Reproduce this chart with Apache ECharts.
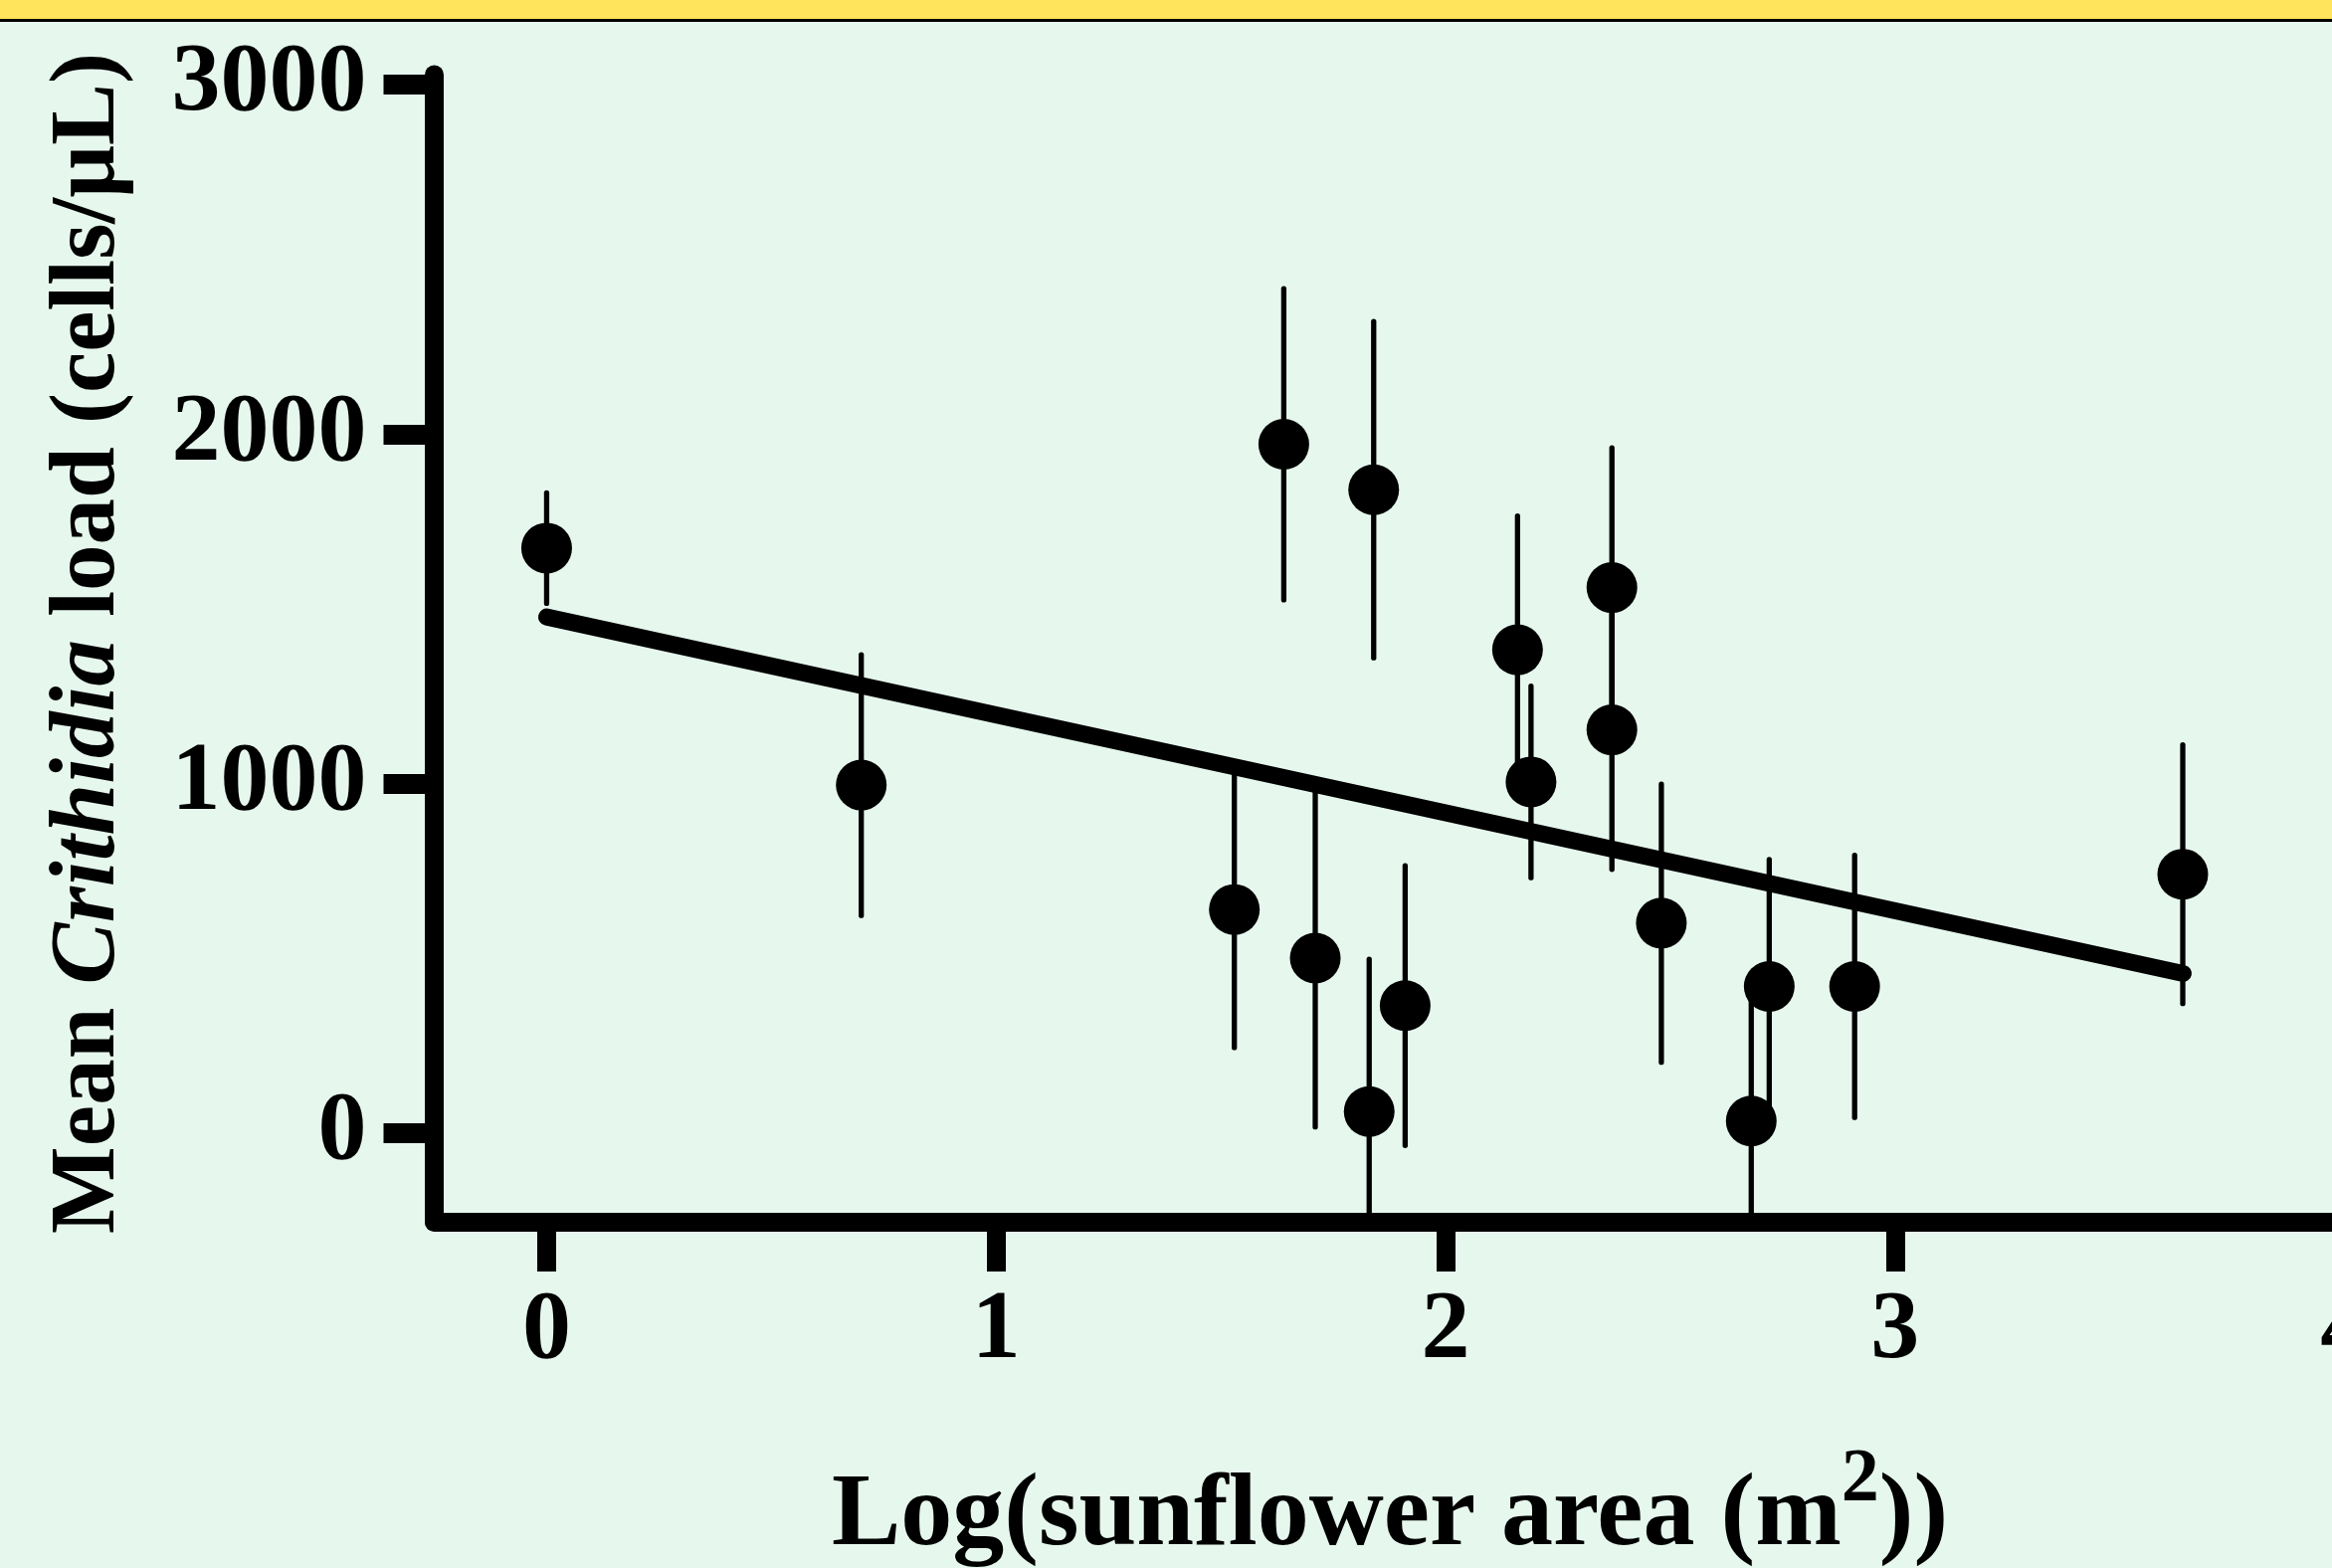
<!DOCTYPE html>
<html>
<head>
<meta charset="utf-8">
<script src="https://cdn.jsdelivr.net/npm/echarts@6/dist/echarts.min.js"></script>
<style>
html,body{margin:0;padding:0;background:#E6F8EE;}
#c{width:2344px;height:1576px;}
</style>
</head>
<body>
<div id="c"></div>
<script>
// Data
const logArea = [0.00, 0.70, 1.64, 1.84, 1.53, 1.71, 1.83, 1.91, 2.16, 2.19, 2.37, 2.37, 2.48, 2.68, 2.72, 2.91, 3.64];
const meanLoad = [1674, 996, 1971, 1841, 640, 501, 62, 365, 1383, 1005, 1561, 1154, 601, 35, 420, 420, 741];
const loadErr = [158, 373, 445, 481, 395, 483, 436, 400, 383, 274, 400, 399, 398, 365, 363, 375, 370];
const fitX = [0, 3.641];
const fitY = [1477, 457];
const xTicks = [0, 1, 2, 3, 4];
const yTicks = [0, 1000, 2000, 3000];

const FONT = "'Liberation Serif', 'Times New Roman', serif";
const chart = echarts.init(document.getElementById('c'), null, {renderer: 'canvas'});

const errData = logArea.map((x, i) => [x, meanLoad[i] - loadErr[i], meanLoad[i] + loadErr[i]]);
const ptData = logArea.map((x, i) => [x, meanLoad[i]]);
const fitData = fitX.map((x, i) => [x, fitY[i]]);

const labelStyle = {fontFamily: FONT, fontWeight: 'bold', fontSize: 98, color: '#000', formatter: v => String(v)};

chart.setOption({
  animation: false,
  backgroundColor: '#E6F8EE',
  grid: {left: 436.5, top: 75, width: 2010.5, height: 1153, containLabel: false, outerBoundsMode: 'none'},
  xAxis: {
    type: 'value', min: -0.25, max: 4.2,
    axisLine: {onZero: false, lineStyle: {color: '#000', width: 19}},
    axisTick: {show: true, length: 50, customValues: xTicks, lineStyle: {color: '#000', width: 19}},
    axisLabel: Object.assign({customValues: xTicks, margin: 62}, labelStyle),
    splitLine: {show: false}
  },
  yAxis: {
    type: 'value', min: -253.3, max: 3028.5,
    axisLine: {show: true, onZero: false, lineStyle: {color: '#000', width: 19}},
    axisTick: {show: true, length: 51, customValues: yTicks, lineStyle: {color: '#000', width: 20}},
    axisLabel: Object.assign({customValues: yTicks, margin: 68}, labelStyle),
    splitLine: {show: false}
  },
  series: [
    {
      type: 'custom',
      clip: true,
      z: 2,
      encode: {x: 0, y: [1, 2]},
      data: errData,
      renderItem: function (params, api) {
        const x = api.value(0), lo = api.value(1), hi = api.value(2);
        const p1 = api.coord([x, hi]);
        const p2 = api.coord([x, lo]);
        const cs = params.coordSys;
        const bottom = cs.y + cs.height;
        return {
          type: 'line',
          shape: {x1: p1[0], y1: p1[1], x2: p2[0], y2: Math.min(p2[1], bottom)},
          style: {stroke: '#000', lineWidth: 5.3, lineCap: 'round'}
        };
      }
    },
    {
      type: 'line',
      z: 3,
      data: fitData,
      showSymbol: false,
      symbol: 'none',
      lineStyle: {color: '#000', width: 17, cap: 'round', opacity: 1}
    },
    {
      type: 'scatter',
      z: 4,
      data: ptData,
      symbol: 'circle',
      symbolSize: 51,
      itemStyle: {color: '#000', opacity: 1}
    }
  ],
  graphic: [
    {type: 'rect', z: 10, shape: {x: 0, y: 0, width: 2344, height: 19}, style: {fill: '#FFE45C'}},
    {type: 'rect', z: 10, shape: {x: 0, y: 19, width: 2344, height: 3}, style: {fill: '#000'}},
    {
      type: 'text', z: 10, x: 90, y: 646.5, rotation: Math.PI / 2,
      style: {
        text: '{n|Mean }{i|Crithidia}{n| load (cells/μL)}',
        align: 'center', verticalAlign: 'middle',
        rich: {
          n: {fontFamily: FONT, fontWeight: 'bold', fontSize: 93, lineHeight: 110, fill: '#000'},
          i: {fontFamily: FONT, fontWeight: 'bold', fontStyle: 'italic', fontSize: 93, lineHeight: 110, fill: '#000'}
        }
      }
    },
    {
      type: 'text', z: 10, x: 1397, y: 1525,
      style: {
        text: '{n|Log(sunflower area (m}{s|2}{n|))}',
        align: 'center', verticalAlign: 'middle',
        rich: {
          n: {fontFamily: FONT, fontWeight: 'bold', fontSize: 104, lineHeight: 150, fill: '#000'},
          s: {fontFamily: FONT, fontWeight: 'bold', fontSize: 76, lineHeight: 72, verticalAlign: 'top', fill: '#000'}
        }
      }
    }
  ]
});
</script>
</body>
</html>
